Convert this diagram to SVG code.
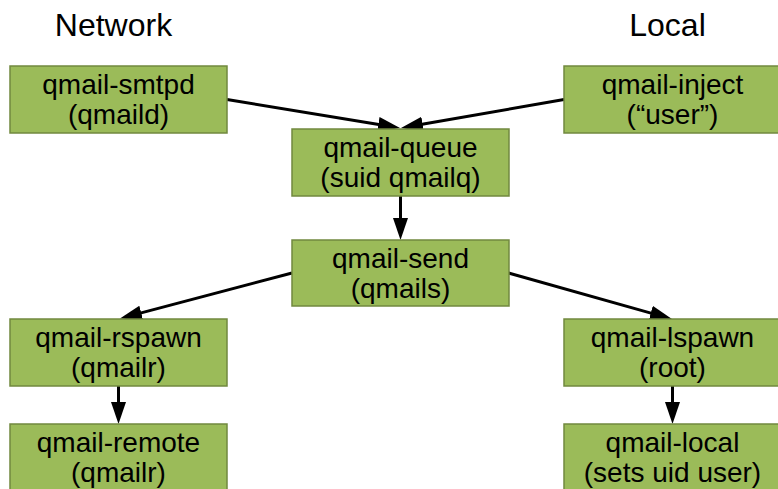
<svg xmlns="http://www.w3.org/2000/svg" width="778" height="489" viewBox="0 0 778 489">
<defs>
<style>
.box rect{fill:#9BBB59;stroke:#71893F;stroke-width:1.5}
.box text{font-family:"Liberation Sans",Arial,sans-serif;font-size:28px;fill:#000;text-anchor:middle}
.hdr{font-family:"Liberation Sans",Arial,sans-serif;font-size:32px;fill:#000;text-anchor:middle}
#edges line{stroke:#000;stroke-width:3;marker-end:url(#ah)}
</style>
<marker id="ah" markerUnits="userSpaceOnUse" markerWidth="22" markerHeight="16" refX="2" refY="8" orient="auto" viewBox="0 0 22 16">
<path d="M0,0.5 L22,8 L0,15.5 z" fill="#000"/>
</marker>
</defs>
<rect width="778" height="489" fill="#fff"/>
<text class="hdr" x="113.5" y="36">Network</text>
<text class="hdr" x="667.5" y="36">Local</text>
<g id="edges">
<line x1="227" y1="99.5" x2="380.3" y2="124.7"/>
<line x1="564" y1="99.5" x2="420.7" y2="124.6"/>
<line x1="400.5" y1="196" x2="400.5" y2="220"/>
<line x1="292" y1="273" x2="139.3" y2="313.4"/>
<line x1="508.5" y1="273" x2="652.7" y2="313.6"/>
<line x1="118.5" y1="386" x2="118.5" y2="404"/>
<line x1="672.5" y1="386" x2="672.5" y2="404"/>
</g>
<g id="smtpd" class="box"><rect x="10" y="66" width="217" height="67"/><text x="118.5" y="94">qmail-smtpd</text><text x="118.5" y="124">(qmaild)</text></g>
<g id="inject" class="box"><rect x="564" y="66" width="217" height="67"/><text x="672.5" y="94">qmail-inject</text><text x="672.5" y="124">(“user”)</text></g>
<g id="queue" class="box"><rect x="292" y="129" width="217" height="67"/><text x="400.5" y="157">qmail-queue</text><text x="400.5" y="187">(suid qmailq)</text></g>
<g id="send" class="box"><rect x="292" y="240" width="217" height="66"/><text x="400.5" y="268">qmail-send</text><text x="400.5" y="298">(qmails)</text></g>
<g id="rspawn" class="box"><rect x="10" y="319" width="217" height="67"/><text x="118.5" y="347">qmail-rspawn</text><text x="118.5" y="377">(qmailr)</text></g>
<g id="lspawn" class="box"><rect x="564" y="319" width="217" height="67"/><text x="672.5" y="347">qmail-lspawn</text><text x="672.5" y="377">(root)</text></g>
<g id="remote" class="box"><rect x="10" y="424" width="217" height="67"/><text x="118.5" y="452">qmail-remote</text><text x="118.5" y="482">(qmailr)</text></g>
<g id="local" class="box"><rect x="564" y="424" width="217" height="67"/><text x="672.5" y="452">qmail-local</text><text x="672.5" y="482">(sets uid user)</text></g>
</svg>
